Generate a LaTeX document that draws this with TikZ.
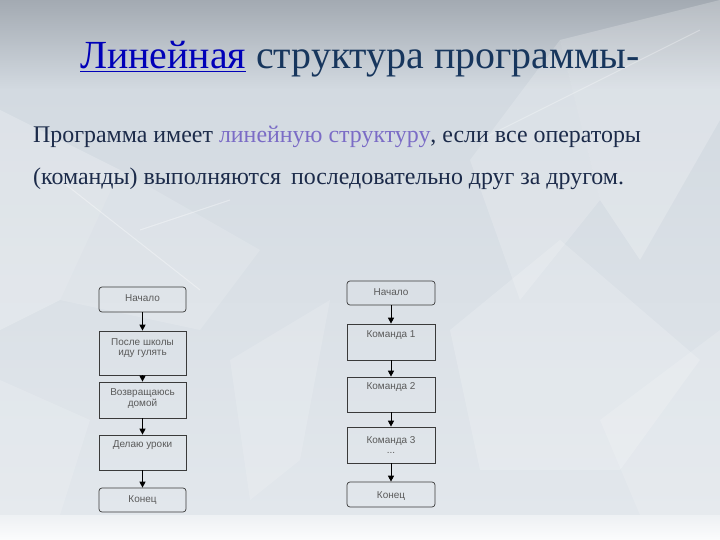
\documentclass[tikz,border=0pt]{standalone}
\usepackage{fontspec}
\setmainfont{Liberation Serif}
\newfontfamily\seriffont{Liberation Serif}
\newfontfamily\boxfont{Liberation Sans}
\usetikzlibrary{arrows.meta}
\definecolor{bgtop}{HTML}{A3AAB2}
\definecolor{bgmid}{HTML}{D3DAE1}
\definecolor{bglow}{HTML}{E2E7EC}
\definecolor{titlecol}{HTML}{17365D}
\definecolor{linkcol}{HTML}{0000B8}
\definecolor{bodycol}{HTML}{1C2B4A}
\definecolor{hlcol}{HTML}{7B6CC6}
\definecolor{boxline}{HTML}{3A3A3A}
\definecolor{boxtext}{HTML}{5A5A5A}
\tikzset{
  fbox/.style={draw=boxline, line width=0.7bp, inner sep=0pt},
  fterm/.style={fbox, rounded corners=3bp},
  ftext/.style={font=\boxfont\fontsize{10}{12}\selectfont, text=boxtext, inner sep=0pt},
  farrow/.style={draw=black, line width=1bp, -{Triangle[length=6bp,width=6bp]}},
  shard/.style={fill=white, draw=none},
  bodytext/.style={anchor=base west, inner sep=0pt, font=\seriffont\fontsize{24}{28}\selectfont, text=bodycol},
}
\begin{document}
\begin{tikzpicture}[x=1bp,y=-1bp]
% background
\useasboundingbox (0,0) rectangle (720,540);
\shade[top color=bgtop, bottom color=bgmid] (0,0) rectangle (720,90);
\shade[top color=bgmid, bottom color=bglow] (0,90) rectangle (720,515);
\shade[top color=bglow!60!white, bottom color=white!92!bgmid] (0,515) rectangle (720,540);
% ice shards
\fill[shard, opacity=0.22] (560,40) -- (720,0) -- (720,120) -- (640,260) -- (600,200) -- cycle;
\fill[shard, opacity=0.18] (470,160) -- (560,40) -- (600,200) -- (520,300) -- cycle;
\fill[shard, opacity=0.22] (0,110) -- (120,170) -- (60,300) -- (0,330) -- cycle;
\fill[shard, opacity=0.15] (120,170) -- (260,250) -- (200,330) -- (60,300) -- cycle;
\fill[shard, opacity=0.15] (230,360) -- (330,300) -- (300,460) -- (250,500) -- cycle;
\fill[shard, opacity=0.18] (450,330) -- (560,240) -- (700,360) -- (620,470) -- (480,470) -- cycle;
\fill[shard, opacity=0.15] (0,380) -- (90,420) -- (60,515) -- (0,515) -- cycle;
\fill[shard, opacity=0.15] (600,420) -- (720,330) -- (720,515) -- (640,515) -- cycle;
\draw[white, opacity=0.35, line width=1bp] (60,180) -- (200,290);
\draw[white, opacity=0.35, line width=1bp] (140,230) -- (230,200);
\draw[white, opacity=0.3, line width=1bp] (480,140) -- (700,30);
% title
\node[anchor=base, inner sep=0pt, font=\seriffont\fontsize{40}{48}\selectfont, text=titlecol] (title) at (360,69)
  {\textcolor{linkcol}{\underline{Линейная}} структура программы-};
% body text
\node[bodytext] (line1) at (33,143)
  {Программа имеет \textcolor{hlcol}{линейную структуру}, если все операторы};
\node[bodytext] (line2) at (33,185)
  {(команды) выполняются\hspace{4bp} последовательно друг за другом.};
% left flowchart
\node[fterm, minimum width=87bp, minimum height=25bp] (l1) at (142.5,299.5) {};
\node[fbox, minimum width=87bp, minimum height=44bp] (l2) at (142.5,353) {};
\node[fbox, minimum width=87bp, minimum height=36bp] (l3) at (142.5,400) {};
\node[fbox, minimum width=87bp, minimum height=35bp] (l4) at (142.5,452.5) {};
\node[fterm, minimum width=87bp, minimum height=24bp] (l5) at (142.5,500) {};
\node[ftext] (l1t) at (142.5,298) {Начало};
\node[ftext, align=center] (l2t) at (142.5,348) {После школы\\[-1.5bp]иду гулять};
\node[ftext, align=center] (l3t) at (142.5,398.5) {Возвращаюсь\\[-1.5bp]домой};
\node[ftext] (l4t) at (142.5,445) {Делаю уроки};
\node[ftext] (l5t) at (142.5,500) {Конец};
\draw[farrow] (l1) -- (l2);
\draw[farrow] (l2) -- (l3);
\draw[farrow] (l3) -- (l4);
\draw[farrow] (l4) -- (l5);
% right flowchart
\node[fterm, minimum width=88bp, minimum height=24bp] (r1) at (391,293) {};
\node[fbox, minimum width=88bp, minimum height=36bp] (r2) at (391,342) {};
\node[fbox, minimum width=88bp, minimum height=35bp] (r3) at (391,394.5) {};
\node[fbox, minimum width=88bp, minimum height=36bp] (r4) at (391,445) {};
\node[fterm, minimum width=88bp, minimum height=25bp] (r5) at (391,494.5) {};
\node[ftext] (r1t) at (391,292) {Начало};
\node[ftext] (r2t) at (391,335) {Команда 1};
\node[ftext] (r3t) at (391,387) {Команда 2};
\node[ftext, align=center] (r4t) at (391,445) {Команда 3\\[-1.5bp]...};
\node[ftext] (r5t) at (391,496) {Конец};
\draw[farrow] (r1) -- (r2);
\draw[farrow] (r2) -- (r3);
\draw[farrow] (r3) -- (r4);
\draw[farrow] (r4) -- (r5);
\end{tikzpicture}
\end{document}
